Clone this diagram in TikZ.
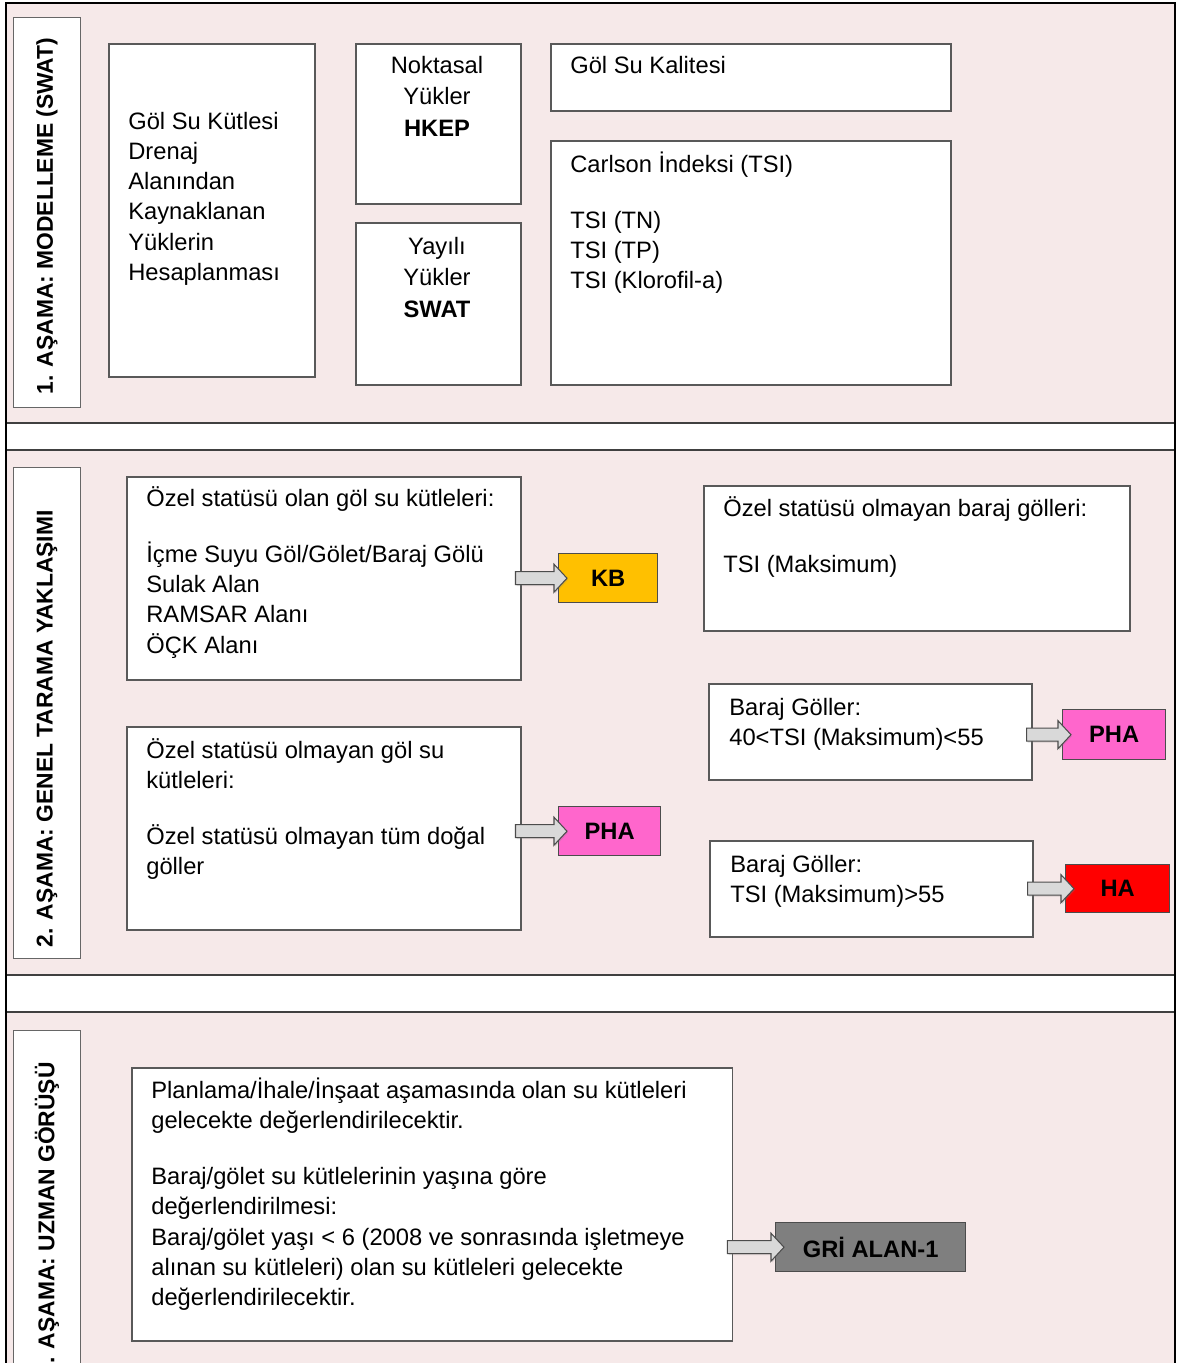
\documentclass[tikz,border=0pt]{standalone}
\usepackage{fontspec}
\setmainfont{Liberation Sans}
\usetikzlibrary{calc,shadows}

\definecolor{panelpink}{HTML}{F6E9E9}
\definecolor{kbfill}{HTML}{FFC000}
\definecolor{phafill}{HTML}{FF66CC}
\definecolor{hafill}{HTML}{FF0000}
\definecolor{grifill}{HTML}{7F7F7F}
\newcommand{\txtsize}{\fontsize{13.5}{17.2}\selectfont}
\newcommand{\topline}{\rule{0pt}{13pt}}

\tikzset{
  panel/.style={draw=black!75,fill=panelpink,line width=0.8pt},
  stagebox/.style={draw=black!60,fill=white,anchor=north west,inner sep=0pt,line width=0.8pt},
  stagetext/.style={rotate=90,inner sep=0pt,font=\fontsize{13}{15}\selectfont\bfseries},
  box/.style={draw=black!65,fill=white,anchor=north west,inner sep=0pt,line width=0.9pt},
  boxtext/.style={anchor=north west,align=left,inner sep=0pt},
  loadtext/.style={anchor=north,align=center,inner sep=0pt,font=\fontsize{13.5}{17.9}\selectfont},
  result/.style={draw=black!70,anchor=north west,inner sep=0pt,line width=0.8pt,font=\txtsize\bfseries},
  blockarrow/.style={draw=black!70,fill=black!15,line width=0.6pt,
    drop shadow={opacity=0.25,shadow xshift=0.6pt,shadow yshift=-0.8pt},
    to path={let \p1=(\tikztostart), \p2=(\tikztotarget) in
      (\x1-0.12cm,\y2+0.13cm) -- (\x2-0.08cm,\y2+0.13cm) -- (\x2-0.08cm,\y2+0.28cm)
      -- (\x2+0.18cm,\y2) -- (\x2-0.08cm,\y2-0.28cm) -- (\x2-0.08cm,\y2-0.13cm)
      -- (\x1-0.12cm,\y2-0.13cm) -- cycle}}
}

\begin{document}
\begin{tikzpicture}[x=0.02cm,y=-0.02cm,every node/.style={font=\txtsize}]
\useasboundingbox (0,0) rectangle (1177,1363);
\clip (0,0) rectangle (1177,1363);
\fill[white] (0,0) rectangle (1177,1363);

% panels
\draw[panel] (6,3) rectangle (1175,423);
\draw[panel] (6,450) rectangle (1175,975);
\draw[panel] (6,1012) rectangle (1175,1420);
\draw[line width=1.6pt] (6,1420) -- (6,3) -- (1175,3) -- (1175,1420);

% 1. asama
\node[stagebox,minimum width=1.34cm,minimum height=7.8cm] (stage1) at (13,17) {};
\node[stagetext,anchor=west] (stage1txt) at (47,395) {1. AŞAMA: MODELLEME (SWAT)};
\node[box,minimum width=4.12cm,minimum height=6.66cm] (load) at (108,43) {};
\node[boxtext] (loadtxt) at (128,106) {\topline Göl Su Kütlesi\\Drenaj\\Alanından\\Kaynaklanan\\Yüklerin\\Hesaplanması};
\node[box,minimum width=3.3cm,minimum height=3.2cm] (point) at (355,43) {};
\node[loadtext] (pointtxt) at (437,50) {\topline Noktasal\\Yükler\\\textbf{HKEP}};
\node[box,minimum width=3.3cm,minimum height=3.24cm] (diffuse) at (355,222) {};
\node[loadtext] (diffusetxt) at (437,231) {\topline Yayılı\\Yükler\\\textbf{SWAT}};
\node[box,minimum width=8cm,minimum height=1.34cm] (quality) at (550,43) {};
\node[boxtext] (qualitytxt) at (570,50) {\topline Göl Su Kalitesi};
\node[box,minimum width=8cm,minimum height=4.88cm] (carlson) at (550,140) {};
\node[boxtext] (carlsontxt) at (570,149) {\topline Carlson İndeksi (TSI)\\[0.52cm]TSI (TN)\\TSI (TP)\\TSI (Klorofil-a)};

% 2. asama
\node[stagebox,minimum width=1.34cm,minimum height=9.82cm] (stage2) at (13,467) {};
\node[stagetext,anchor=west] (stage2txt) at (47,948) {2. AŞAMA: GENEL TARAMA YAKLAŞIMI};
\node[box,minimum width=7.88cm,minimum height=4.06cm] (special) at (126,476) {};
\node[boxtext] (specialtxt) at (146,483) {\topline Özel statüsü olan göl su kütleleri:\\[0.52cm]İçme Suyu Göl/Gölet/Baraj Gölü\\Sulak Alan\\RAMSAR Alanı\\ÖÇK Alanı};
\node[result,fill=kbfill,minimum width=1.98cm,minimum height=0.98cm] (kb) at (558,553) {KB};
\node[box,minimum width=7.88cm,minimum height=4.06cm] (nonspecial) at (126,726) {};
\node[boxtext] (nonspecialtxt) at (146,735) {\topline Özel statüsü olmayan göl su\\kütleleri:\\[0.52cm]Özel statüsü olmayan tüm doğal\\göller};
\node[result,fill=phafill,minimum width=2.04cm,minimum height=0.98cm] (phalake) at (558,806) {PHA};
\node[box,minimum width=8.52cm,minimum height=2.9cm] (dam) at (703,485) {};
\node[boxtext] (damtxt) at (723,493) {\topline Özel statüsü olmayan baraj gölleri:\\[0.52cm]TSI (Maksimum)};
\node[box,minimum width=6.46cm,minimum height=1.92cm] (dammid) at (708,683) {};
\node[boxtext] (dammidtxt) at (729,692) {\topline Baraj Göller:\\40<TSI (Maksimum)<55};
\node[result,fill=phafill,minimum width=2.06cm,minimum height=1cm] (phadam) at (1062,709) {PHA};
\node[box,minimum width=6.46cm,minimum height=1.92cm] (damhigh) at (709,840) {};
\node[boxtext] (damhightxt) at (730,849) {\topline Baraj Göller:\\TSI (Maksimum)>55};
\node[result,fill=hafill,minimum width=2.08cm,minimum height=0.96cm] (ha) at (1065,864) {HA};

% 3. asama
\node[stagebox,minimum width=1.34cm,minimum height=8cm] (stage3) at (13,1030) {};
\node[stagetext,anchor=east] (stage3txt) at (47,1062) {3. AŞAMA: UZMAN GÖRÜŞÜ};
\node[box,minimum width=12.02cm,minimum height=5.46cm] (expert) at (131,1067) {};
\node[boxtext] (experttxt) at (151,1075) {\topline Planlama/İhale/İnşaat aşamasında olan su kütleleri\\gelecekte değerlendirilecektir.\\[0.52cm]Baraj/gölet su kütlelerinin yaşına göre\\değerlendirilmesi:\\Baraj/gölet yaşı < 6 (2008 ve sonrasında işletmeye\\alınan su kütleleri) olan su kütleleri gelecekte\\değerlendirilecektir.};
\node[result,fill=grifill,minimum width=3.8cm,minimum height=0.98cm] (gri) at (775,1222) {GRİ ALAN-1};

% arrows
\path[blockarrow] (special.east) to (kb.west);
\path[blockarrow] (nonspecial.east) to (phalake.west);
\path[blockarrow] (dammid.east) to (phadam.west);
\path[blockarrow] (damhigh.east) to (ha.west);
\path[blockarrow] (expert.east) to (gri.west);
\end{tikzpicture}
\end{document}
